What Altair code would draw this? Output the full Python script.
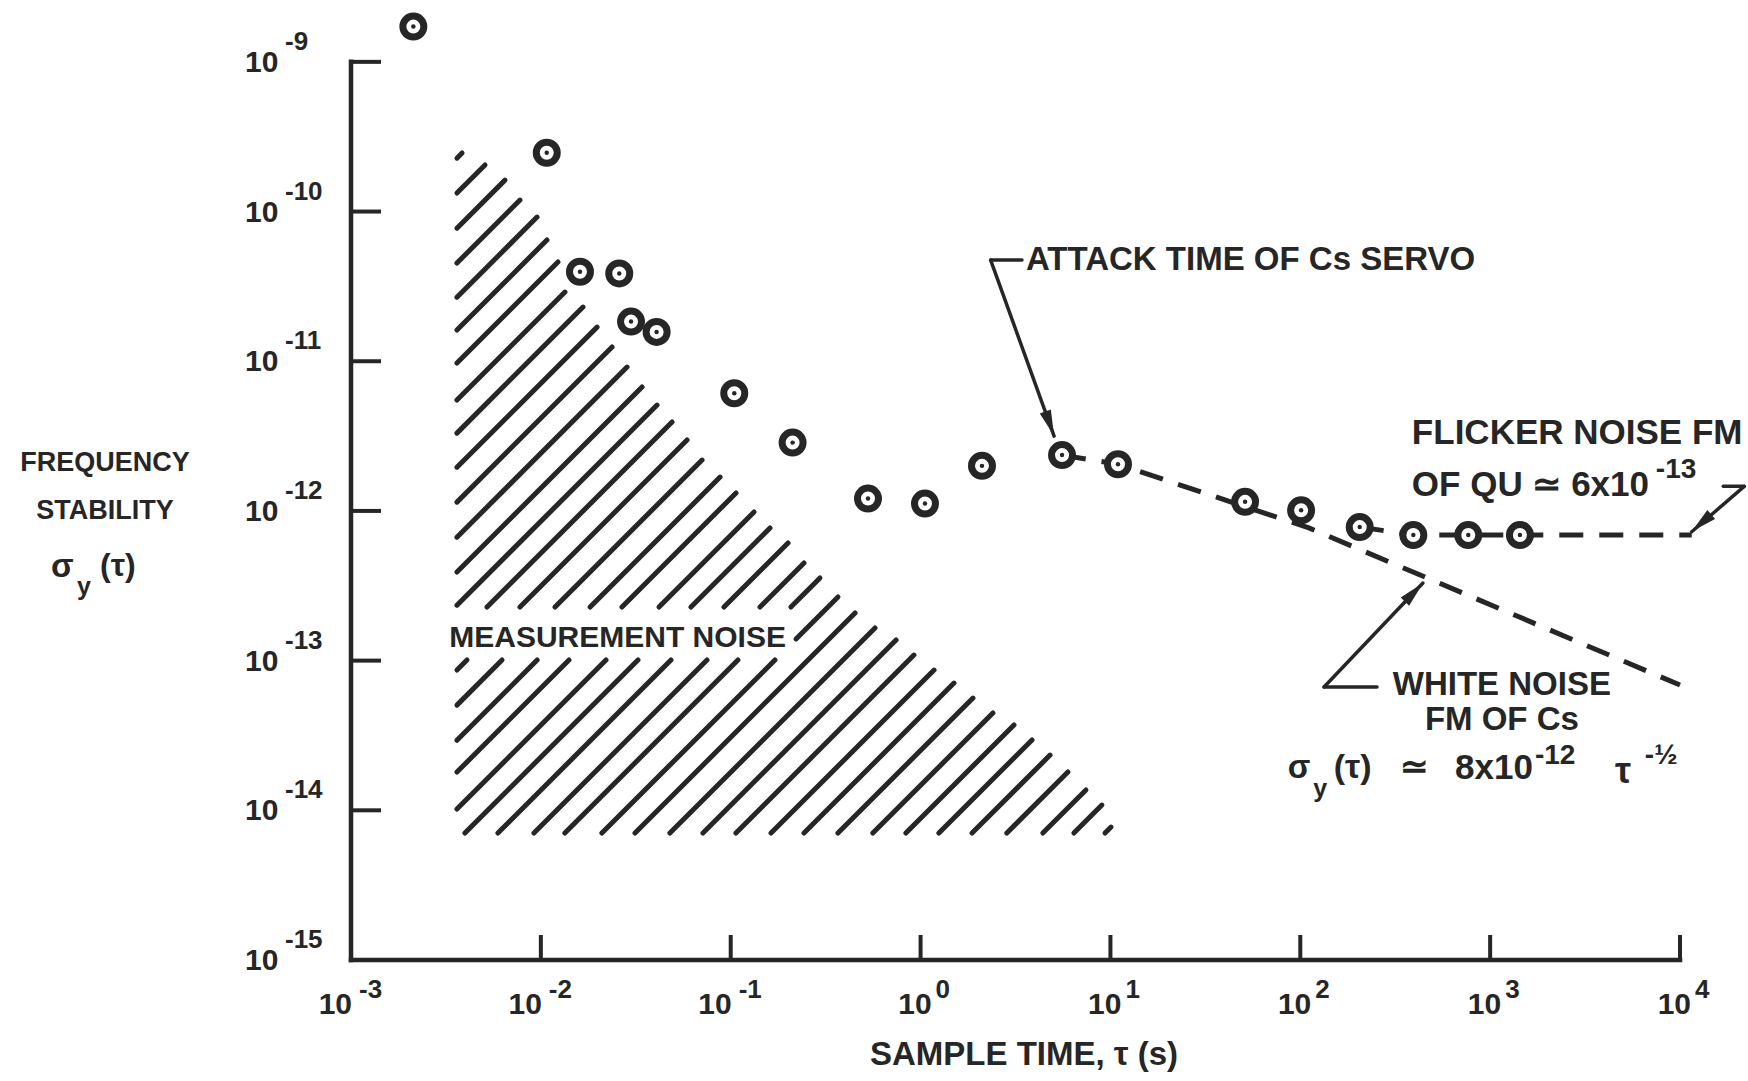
import altair as alt
import pandas as pd

INK = "#262626"
FONT = "Liberation Sans"

# ---------------- data ----------------
tau = [2.13e-3, 1.074e-2, 1.607e-2, 2.588e-2, 2.985e-2, 4.071e-2, 0.1044, 0.2118,
       0.5285, 1.055, 2.106, 5.56, 10.96, 51.2, 101.0, 205.6, 394.0, 767.0, 1435.0]
sigma = [1.72e-9, 2.47e-10, 3.96e-11, 3.86e-11, 1.84e-11, 1.57e-11, 6.11e-12, 2.86e-12,
         1.21e-12, 1.12e-12, 2.0e-12, 2.36e-12, 2.05e-12, 1.15e-12, 1.01e-12, 7.8e-13,
         6.9e-13, 6.9e-13, 6.9e-13]

white_tau = [5.56, 10.96, 111.0, 1.0e4]
white_sigma = [2.36e-12, 2.05e-12, 7.7e-13, 6.87e-14]
flicker_tau = [206.0, 394.0, 11530.0]
flicker_sigma = [7.8e-13, 6.9e-13, 6.9e-13]

x_ticks = [1e-3, 1e-2, 1e-1, 1e0, 1e1, 1e2, 1e3, 1e4]
x_exps = ["-3", "-2", "-1", "0", "1", "2", "3", "4"]
y_ticks = [1e-15, 1e-14, 1e-13, 1e-12, 1e-11, 1e-10, 1e-9]
y_exps = ["-15", "-14", "-13", "-12", "-11", "-10", "-9"]

x_title = "SAMPLE TIME, τ (s)"
y_title = ["FREQUENCY", "STABILITY"]

# measurement-noise hatch: upper ends of the hatch strokes (log10 tau, log10 sigma)
hatch_end_ltau = [-2.415, -2.294, -2.189, -2.110, -2.020, -1.968, -1.910, -1.873, -1.778, -1.704,
                  -1.625, -1.546, -1.467, -1.388, -1.309, -1.230, -1.151, -1.056, -0.972, -0.877,
                  -0.793, -0.698, -0.614, -0.530, -0.435, -0.345, -0.240, -0.129, -0.035, 0.071,
                  0.176, 0.276, 0.381, 0.492, 0.587, 0.682, 0.776, 0.871, 0.955, 1.003]
hatch_end_lsig = [-9.609, -9.689, -9.790, -9.923, -10.037, -10.190, -10.337, -10.538, -10.638, -10.772,
                  -10.905, -11.039, -11.172, -11.293, -11.406, -11.526, -11.660, -11.774, -11.880, -12.007,
                  -12.114, -12.214, -12.348, -12.448, -12.575, -12.682, -12.782, -12.862, -12.963, -13.063,
                  -13.150, -13.250, -13.350, -13.430, -13.530, -13.631, -13.744, -13.864, -13.965, -14.112]
hatch_left_ltau = -2.442
hatch_bottom_lsig = -14.152
gap_lsig = [-12.996, -12.642]      # band left open for the label
gap_right_ltau = -0.656

leader_x = [2.34, 2.34, 16900.0, 21800.0, 133.4, 133.4]
leader_y = [4.74e-11, 4.74e-11, 1.46e-12, 1.46e-12, 6.67e-14, 6.67e-14]
leader_x2 = [3.42, 5.05, 21800.0, 11530.0, 253.5, 442.6]
leader_y2 = [4.74e-11, 3.16e-12, 1.46e-12, 7.26e-13, 6.67e-14, 3.30e-13]
arrow_x = [4.79, 12970.0, 397.0]
arrow_y = [3.82e-12, 8.30e-13, 2.86e-13]
arrow_angle = [160, 229, 44]

# ---------------- layout ----------------
W, H = 1329, 952
xs = alt.Scale(type="log", domain=[1e-3, 1e4], nice=False)
ys = alt.Scale(type="log", domain=[1e-15, 2.29e-9], nice=False)


def X(f):
    return alt.X(f, type="quantitative", scale=xs, axis=None)


def Y(f):
    return alt.Y(f, type="quantitative", scale=ys, axis=None)


# hatch strokes at 45 degrees on screen, clipped to the region's left edge / bottom
DX, DY = W / 7.0, 149.7
XL = (hatch_left_ltau + 3) * DX
YB = (hatch_bottom_lsig + 15) * DY
G0 = (gap_lsig[0] + 15) * DY
G1 = (gap_lsig[1] + 15) * DY
GX = (gap_right_ltau + 3) * DX


def to_data(xp, yp):
    return 10 ** (xp / DX - 3), 10 ** (yp / DY - 15)


hrows = []
for lt, ls in zip(hatch_end_ltau, hatch_end_lsig):
    Xe, Ye = (lt + 3) * DX, (ls + 15) * DY
    c = Ye - Xe
    Ys = XL + c if XL + c >= YB else YB
    cut_hi = min(G1, GX + c)
    pieces = []
    if cut_hi > G0 and Ye > G0 and Ys < cut_hi:
        if Ys < G0:
            pieces.append((Ys, G0))
        if Ye > cut_hi:
            pieces.append((max(Ys, cut_hi), Ye))
    else:
        pieces.append((Ys, Ye))
    for a, b in pieces:
        x1, y1 = to_data(a - c, a)
        x2, y2 = to_data(b - c, b)
        hrows.append({"x": x1, "y": y1, "x2": x2, "y2": y2})
hatch_df = pd.DataFrame(hrows)

pts = pd.DataFrame({"x": tau, "y": sigma})
white_df = pd.DataFrame({"x": white_tau, "y": white_sigma})
flick_df = pd.DataFrame({"x": flicker_tau, "y": flicker_sigma})
lead_df = pd.DataFrame({"x": leader_x, "y": leader_y, "x2": leader_x2, "y2": leader_y2})
arr_df = pd.DataFrame({"x": arrow_x, "y": arrow_y, "a": arrow_angle})
axes_df = pd.DataFrame({"x": [1e-3, 1e-3], "x2": [1e-3, 1e4],
                        "y": [1e-15, 1e-15], "y2": [1e-9, 1e-15]})
xt_df = pd.DataFrame({"v": x_ticks, "e": x_exps})
xt_df["neg"] = xt_df["e"].str.startswith("-")
yt_df = pd.DataFrame({"v": y_ticks, "e": y_exps})

layers = []

# axis lines
layers.append(alt.Chart(axes_df).mark_rule(color=INK, strokeWidth=4.5, strokeCap="square").encode(
    x=X("x"), x2="x2:Q", y=Y("y"), y2="y2:Q"))
# inward ticks
layers.append(alt.Chart(yt_df).mark_rule(color=INK, strokeWidth=4).encode(
    y=Y("v"), x=alt.value(0), x2=alt.value(30)))
layers.append(alt.Chart(xt_df).mark_rule(color=INK, strokeWidth=4).encode(
    x=X("v"), y=alt.value(H), y2=alt.value(H - 25)))

# hatch
layers.append(alt.Chart(hatch_df).mark_rule(color=INK, strokeWidth=5, strokeCap="round").encode(
    x=X("x"), y=Y("y"), x2="x2:Q", y2="y2:Q"))

# dashed noise lines
for d in (white_df, flick_df):
    layers.append(alt.Chart(d).mark_line(color=INK, strokeWidth=5, strokeDash=[24, 16]).encode(
        x=X("x"), y=Y("y"), order=alt.Order("x:Q")))

# leaders and arrowheads
layers.append(alt.Chart(lead_df).mark_rule(color=INK, strokeWidth=3.5, strokeCap="round").encode(
    x=X("x"), y=Y("y"), x2="x2:Q", y2="y2:Q"))
layers.append(alt.Chart(arr_df).mark_point(shape="M0,-1L0.45,1L-0.45,1Z", filled=True, color=INK,
                                           size=676, opacity=1).encode(
    x=X("x"), y=Y("y"), angle=alt.Angle("a:Q", scale=None)))

# data points: ring with centre dot
layers.append(alt.Chart(pts).mark_point(shape="circle", filled=True, fill="white", stroke=INK,
                                        strokeWidth=7, size=441, opacity=1).encode(x=X("x"), y=Y("y")))
layers.append(alt.Chart(pts).mark_point(shape="circle", filled=True, color=INK, size=20,
                                        opacity=1).encode(x=X("x"), y=Y("y")))


def txt(t, x, y, size, align="left"):
    d = pd.DataFrame({"x": [x], "y": [y], "t": [t]})
    return alt.Chart(d).mark_text(font=FONT, fontWeight="bold", fontSize=size, color=INK,
                                  align=align, baseline="middle").encode(
        x=X("x"), y=Y("y"), text="t:N")


def ptxt(t, px, py, size, align="left"):
    d = pd.DataFrame({"t": [t]})
    return alt.Chart(d).mark_text(font=FONT, fontWeight="bold", fontSize=size, color=INK,
                                  align=align, baseline="middle").encode(
        x=alt.value(px), y=alt.value(py), text="t:N")


layers += [
    txt("ATTACK TIME OF Cs SERVO", 3.59, 4.74e-11, 33),
    txt("FLICKER NOISE FM", 387, 3.34e-12, 35),
    txt("OF QU ≃ 6x10", 387, 1.49e-12, 35),
    txt("-13", 7460, 1.87e-12, 28),
    txt("MEASUREMENT NOISE", 0.02535, 1.416e-13, 30, "center"),
    txt("WHITE NOISE", 1153, 6.87e-14, 33, "center"),
    txt("FM OF Cs", 1153, 4.01e-14, 33, "center"),
    # sigma_y(tau) ~ 8x10^-12 tau^-1/2
    txt("σ", 86.0, 1.92e-14, 33),
    txt("y", 117.0, 1.39e-14, 25),
    txt("(τ)", 150.0, 1.92e-14, 34),
    txt("≃", 335, 1.92e-14, 34),
    txt("8x10", 653, 1.92e-14, 35),
    txt("-12", 1722, 2.31e-14, 28),
    txt("τ", 4540, 1.80e-14, 36),
    txt("-½", 6530, 2.31e-14, 28),
]

# x tick labels: "10" plus raised exponent
for neg, d10, dex in ((True, 1, 8), (False, 11, 15)):
    sub = xt_df[xt_df["neg"] == neg]
    layers.append(alt.Chart(sub).mark_text(font=FONT, fontWeight="bold", fontSize=30, color=INK,
                                           align="right", baseline="middle", dx=d10).encode(
        x=X("v"), y=alt.value(H + 45), text=alt.value("10")))
    layers.append(alt.Chart(sub).mark_text(font=FONT, fontWeight="bold", fontSize=26, color=INK,
                                           align="left", baseline="middle", dx=dex).encode(
        x=X("v"), y=alt.value(H + 30), text="e:N"))

# y tick labels: "10" plus raised exponent
layers.append(alt.Chart(yt_df).mark_text(font=FONT, fontWeight="bold", fontSize=30, color=INK,
                                         align="left", baseline="middle", dy=1).encode(
    y=Y("v"), x=alt.value(-106), text=alt.value("10")))
layers.append(alt.Chart(yt_df).mark_text(font=FONT, fontWeight="bold", fontSize=26, color=INK,
                                         align="left", baseline="middle", dy=-20).encode(
    y=Y("v"), x=alt.value(-66), text="e:N"))

# axis titles
layers += [
    ptxt(x_title, 673, H + 95, 33, "center"),
    ptxt(y_title[0], -246, 455, 27, "center"),
    ptxt(y_title[1], -246, 503, 27, "center"),
    ptxt("σ", -300, 559, 33),
    ptxt("y", -274, 579, 25),
    ptxt("(τ)", -251, 558, 32),
]

chart = alt.layer(*layers).properties(
    width=W, height=H,
    padding={"left": 351, "top": 8, "right": 68, "bottom": 121},
    autosize=alt.AutoSizeParams(type="none"),
    background="white",
).configure_view(stroke=None)

chart.save("out.html", embed_options={"renderer": "svg", "actions": False})
